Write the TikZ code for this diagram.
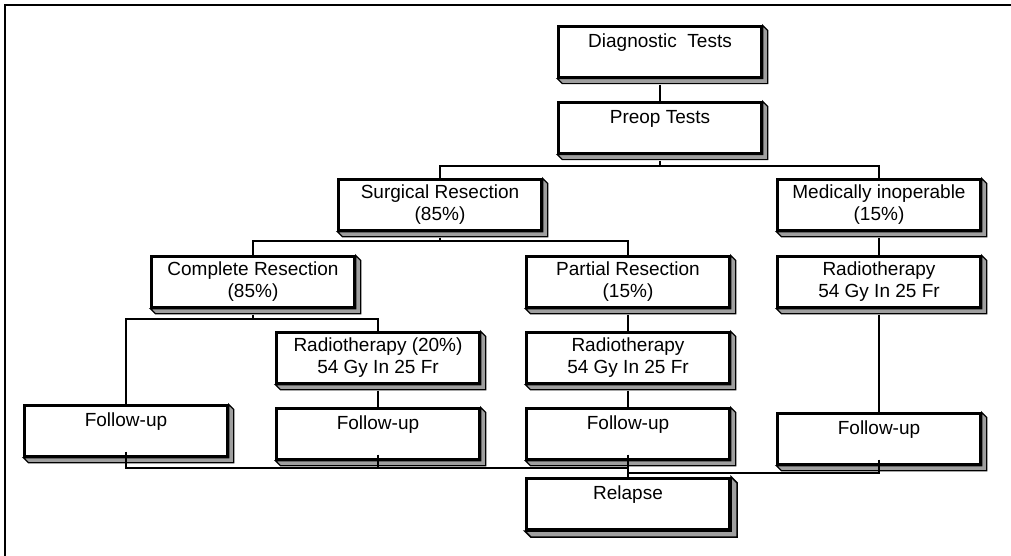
\documentclass[tikz,border=0pt]{standalone}
\usepackage{fontspec}
\setmainfont{Liberation Sans}
\begin{document}
\begin{tikzpicture}[x=1pt,y=-1pt,
  box/.style={draw, line width=2.3pt, fill=white, minimum width=203pt, minimum height=51pt,
    align=center, inner sep=0pt, font=\fontsize{19}{22}\selectfont},
  bigbox/.style={box, line width=3.2pt},
  shade/.style={fill=gray!75, line width=1.2pt},
  link/.style={line width=2.3pt},
  frame/.style={line width=1.6pt}]
\useasboundingbox (0,0) rectangle (1011,556);
\draw[frame] (5,556) -- (5,5) -- (1011,5);
% nodes
\node[box] (diag) at (660,52) {Diagnostic\ \ Tests\\\mbox{}};
\node[box] (preop) at (660,128) {Preop Tests\\\mbox{}};
\node[box] (surg) at (440,205) {Surgical Resection\\(85\%)};
\node[box] (med) at (879,205) {Medically inoperable\\(15\%)};
\node[box] (comp) at (253,282) {Complete Resection\\(85\%)};
\node[box] (part) at (628,282) {Partial Resection\\(15\%)};
\node[box] (rad3) at (879,282) {Radiotherapy\\54 Gy In 25 Fr};
\node[box] (rad1) at (378,358) {Radiotherapy (20\%)\\54 Gy In 25 Fr};
\node[box] (rad2) at (628,358) {Radiotherapy\\54 Gy In 25 Fr};
\node[box] (fu1) at (126,431) {Follow-up\\\mbox{}};
\node[box] (fu2) at (378,434) {Follow-up\\\mbox{}};
\node[box] (fu3) at (628,434) {Follow-up\\\mbox{}};
\node[box] (fu4) at (879,439) {Follow-up\\\mbox{}};
\node[bigbox] (rel) at (628,504) {Relapse\\\mbox{}};
\coordinate (j1) at (660,166);
\coordinate (j2) at (440,241);
\coordinate (j3) at (253,319);
\coordinate (j4) at (628,468);
\coordinate (j5) at (628,473);
% 3D shadows
\foreach \n in {diag,preop,surg,med,comp,part,rad3,rad1,rad2,fu1,fu2,fu3,fu4}{
  \filldraw[shade] (\n.north east) -- ++(5,5) -- ([shift={(5,5)}]\n.south east)
    -- ([shift={(5,5)}]\n.south west) -- (\n.south west) -- (\n.south east) -- cycle;
}
\filldraw[shade, line width=1.6pt] (rel.north east) -- ++(6,6) -- ([shift={(6,6)}]rel.south east)
    -- ([shift={(6,6)}]rel.south west) -- (rel.south west) -- (rel.south east) -- cycle;
% connectors
\draw[link] (diag.south) ++(0,6) -- (preop.north);
\draw[link] (preop.south) ++(0,6) -- (j1);
\draw[link] (surg.north) |- (j1) -| (med.north);
\draw[link] (surg.south) ++(0,6) -- (j2);
\draw[link] (comp.north) |- (j2) -| (part.north);
\draw[link] (comp.south) ++(0,6) -- (j3);
\draw[link] (fu1.north) |- (j3) -| (rad1.north);
\draw[link] (rad1.south) ++(0,6) -- (fu2.north);
\draw[link] (part.south) ++(0,6) -- (rad2.north);
\draw[link] (rad2.south) ++(0,6) -- (fu3.north);
\draw[link] (med.south) ++(0,6) -- (rad3.north);
\draw[link] (rad3.south) ++(0,6) -- (fu4.north);
\draw[link] ([yshift=6]fu1.south) |- (j4);
\draw[link] ([yshift=6]fu2.south) -- (fu2.south |- j4);
\draw[link] ([yshift=6]fu3.south) -- (rel.north);
\draw[link] ([yshift=6]fu4.south) |- (j5);
\end{tikzpicture}
\end{document}
